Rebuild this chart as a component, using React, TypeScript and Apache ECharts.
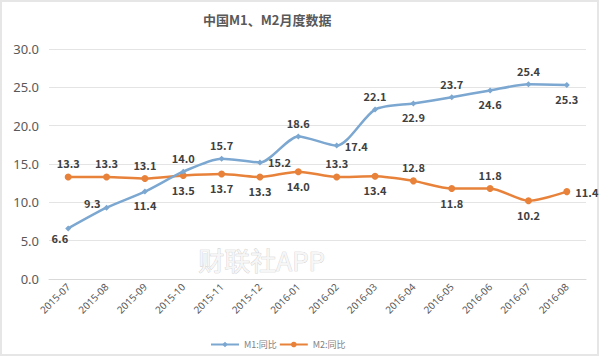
import React, { useEffect, useRef } from "react";
import * as echarts from "echarts";

const categories = ["2015-07","2015-08","2015-09","2015-10","2015-11","2015-12","2016-01","2016-02","2016-03","2016-04","2016-05","2016-06","2016-07","2016-08"];
const m1Values = [6.6, 9.3, 11.4, 14.0, 15.7, 15.2, 18.6, 17.4, 22.1, 22.9, 23.7, 24.6, 25.4, 25.3];
const m2Values = [13.3, 13.3, 13.1, 13.5, 13.7, 13.3, 14.0, 13.3, 13.4, 12.8, 11.8, 11.8, 10.2, 11.4];
const m1LabelPos = ["left","left","bottom","top","top","right","top","right","top","bottom","top","bottom","top","bottom"];
const m2LabelPos = ["top","top","top","bottom","bottom","bottom","bottom","top","bottom","top","bottom","top","bottom","right"];

export default function App() {
  const ref = useRef<HTMLDivElement>(null);
  useEffect(() => {
    if (!ref.current) return;
    const chart = echarts.init(ref.current, null, { renderer: "svg" });
    const labelStyle = { color: "#404040", fontSize: 11, fontWeight: "bold" as const, fontFamily: "Noto Sans CJK SC" };
    chart.setOption({
      animation: false,
      backgroundColor: "#ffffff",
      title: {
        text: "中国M1、M2月度数据",
        left: 198,
        top: 8,
        textStyle: { color: "#595959", fontSize: 13, fontWeight: "bold", fontFamily: "Noto Sans CJK SC" },
      },
      graphic: [
        { type: "rect", shape: { x: 1, y: 1, width: 597, height: 354 }, style: { fill: "none", stroke: "#e6e6e6", lineWidth: 2 }, silent: true },
        { type: "text", left: 198, top: 246, z: 0, style: { text: "财联社APP", fontSize: 26, fontFamily: "Noto Sans CJK SC", fill: "#f6f6f6", stroke: "#cccccc", lineWidth: 0.7 } },
      ],
      legend: {
        left: 205,
        top: 335,
        itemWidth: 28,
        itemHeight: 7,
        itemGap: 2,
        textStyle: { color: "#7f7f7f", fontSize: 9, fontFamily: "Noto Sans CJK SC" },
        data: ["M1:同比", "M2:同比"],
      },
      grid: { left: 49, right: 14, top: 49, bottom: 78 },
      xAxis: {
        type: "category",
        data: categories,
        boundaryGap: true,
        axisLine: { show: true, lineStyle: { color: "#d9d9d9" } },
        axisTick: { show: false },
        axisLabel: { rotate: 45, color: "#595959", fontSize: 10, margin: 6, interval: 0, fontFamily: "Noto Sans" },
      },
      yAxis: {
        type: "value",
        min: 0,
        max: 30,
        interval: 5,
        axisLine: { show: false },
        axisTick: { show: false },
        splitLine: { lineStyle: { color: "#e4e4e4" } },
        axisLabel: { color: "#595959", fontSize: 13, margin: 10, formatter: (v: number) => v.toFixed(1), fontFamily: "Noto Sans" },
      },
      series: [
        {
          name: "M1:同比",
          type: "line",
          smooth: 0.25,
          symbol: "diamond",
          symbolSize: 6,
          itemStyle: { color: "#7ba7d1" },
          lineStyle: { color: "#7ba7d1", width: 2.5 },
          data: m1Values.map((v, i) => ({
            value: v,
            label: { position: m1LabelPos[i], offset: i === 0 ? [8, 10] : i === 1 ? [2, -5] : [0, 0] },
          })),
          label: { show: true, formatter: (p: any) => Number(p.value).toFixed(1), ...labelStyle },
          z: 3,
        },
        {
          name: "M2:同比",
          type: "line",
          smooth: 0.25,
          symbol: "circle",
          symbolSize: 7,
          itemStyle: { color: "#e8823a" },
          lineStyle: { color: "#e8823a", width: 2.5 },
          data: m2Values.map((v, i) => ({ value: v, label: { position: m2LabelPos[i] } })),
          label: { show: true, formatter: (p: any) => Number(p.value).toFixed(1), ...labelStyle },
          z: 2,
        },
      ],
    });
    return () => chart.dispose();
  }, []);
  return <div ref={ref} style={{ position: "fixed", left: 0, top: 0, width: 600, height: 357 }} />;
}
